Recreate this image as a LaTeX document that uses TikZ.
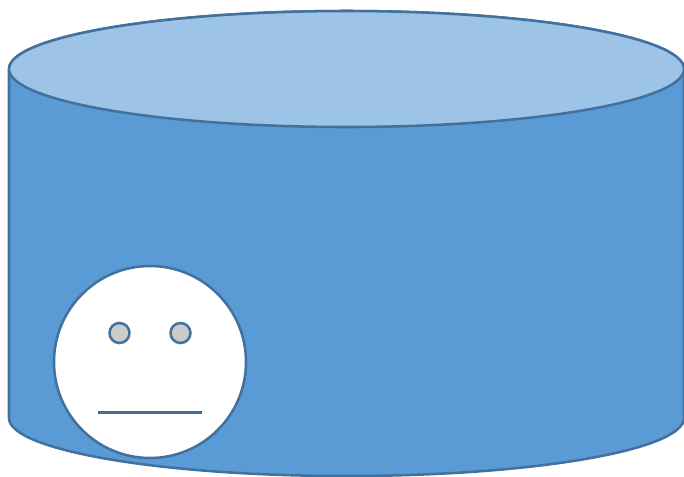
\documentclass[tikz,border=0pt]{standalone}
\usepackage{xcolor}
\usetikzlibrary{positioning}
\definecolor{drumBlue}{HTML}{5B9BD5}
\definecolor{lidBlue}{HTML}{9DC3E6}
\definecolor{edgeBlue}{HTML}{41719C}
\definecolor{eyeGrey}{HTML}{CCCCCC}
\tikzset{
  shell/.style = {draw=edgeBlue, line width=1.9pt, fill=drumBlue},
  lid/.style   = {draw=edgeBlue, line width=1.9pt, fill=lidBlue},
  face/.style  = {circle, draw=edgeBlue, line width=1.9pt, fill=white, inner sep=0pt, minimum size=144pt},
  eye/.style   = {circle, draw=edgeBlue, line width=1.9pt, fill=eyeGrey, inner sep=0pt, minimum size=15pt},
  mouth/.style = {draw=edgeBlue, line width=1.9pt}
}
\begin{document}
\begin{tikzpicture}[x=0.75pt, y=-0.75pt]
  \useasboundingbox (0,0) rectangle (684,476);
  % drum
  \draw[shell] (9,69) -- (9,418) arc[start angle=180, end angle=360, x radius=337.5, y radius=-58]
    -- (684,69) arc[start angle=0, end angle=180, x radius=337.5, y radius=-58] -- cycle;
  \draw[lid] (346.5,69) ellipse[x radius=337.5, y radius=58];
  % head
  \node[face] (head) at (150,362) {};
  \node[eye] (eyeL) at (119.5,333) {};
  \node[eye] (eyeR) at (180.5,333) {};
  \coordinate (mouthL) at (98,412.5);
  \coordinate (mouthR) at (202,412.5);
  \draw[mouth] (mouthL) -- (mouthR);
\end{tikzpicture}
\end{document}
